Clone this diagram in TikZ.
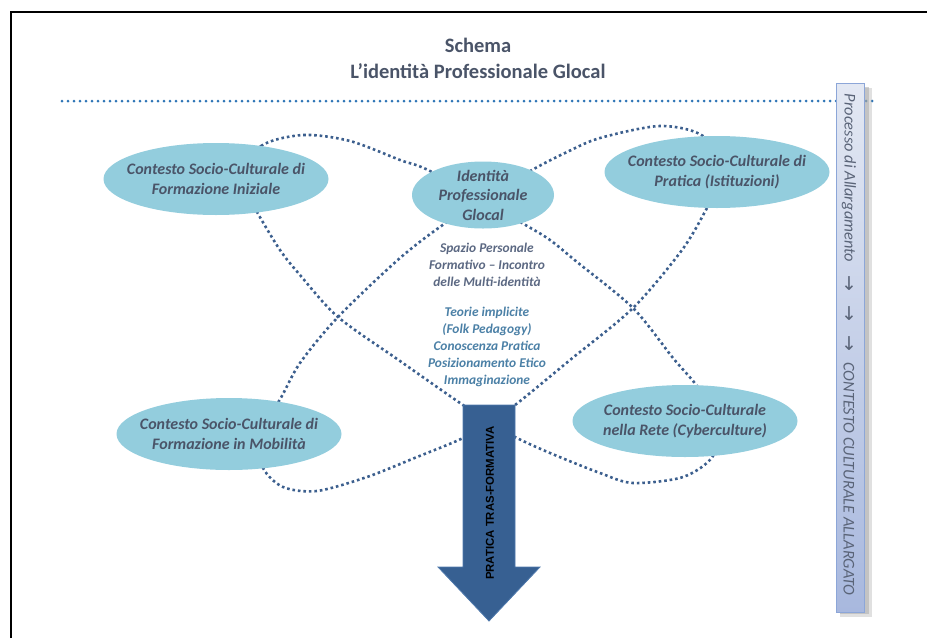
\documentclass[tikz,border=0pt]{standalone}
\usepackage{fontspec}
\setmainfont{Carlito}
\newfontfamily\arialfont{Liberation Sans}
\newfontfamily\symbfont{DejaVu Sans}
\usepackage{tikz}
\usetikzlibrary{shapes.geometric, arrows.meta}
\tikzset{>=stealth}
\usepackage{xcolor}
\definecolor{myaqua}{HTML}{93CDDD}
\definecolor{myslate}{HTML}{4A5468}
\definecolor{mygrey}{HTML}{5B6882}
\definecolor{myteal}{HTML}{4B80A6}
\definecolor{mydots}{HTML}{3C5F8E}
\definecolor{myline}{HTML}{2E75B6}
\definecolor{myarrow}{HTML}{376092}
\definecolor{myarrowedge}{HTML}{4F79AC}
\definecolor{mybartop}{HTML}{E3E8F3}
\definecolor{mybarbot}{HTML}{A8B8DE}
\definecolor{mybaredge}{HTML}{8CA6D8}
\definecolor{mybartext}{HTML}{5A6478}

\begin{document}
\begin{tikzpicture}[x=1pt, y=-1pt,
		ctx/.style={ellipse, fill=myaqua, minimum width=225pt, minimum height=72pt, inner xsep=-40pt, inner ysep=-8pt, align=center, text=myslate, font=\fontsize{16}{19.5}\selectfont\bfseries\itshape},
		dotloop/.style={mydots, line width=2.6pt, dash pattern=on 2.6pt off 2.9pt},
		midtext/.style={align=center, font=\fontsize{13.4}{16.8}\selectfont\bfseries\itshape},
		bartext/.style={rotate=-90, text=mybartext, font=\fontsize{16.4}{18}\selectfont\itshape}]
	\useasboundingbox (0,0) rectangle (927,638);
	% frame and heading
	\draw [line width=1.2pt] (11,638) -- (11,12) -- (927,12);
	\node (title) at (478,58) [align=center, text=myslate, font=\fontsize{20.5}{26}\selectfont\bfseries] {Schema\\L’identità Professionale Glocal};
	\draw [myline, line width=3pt, line cap=round, dash pattern=on 0pt off 6pt] (62,101) -- (875,101);
	% the two crossing loops
	\draw [dotloop] plot [smooth cycle] coordinates {(240,180) (261,146) (303,135) (350,141) (400,160) (432,172) (522,223) (550,240) (577,262) (633,308) (673,358) (697,386) (718,420) (713,456) (683,477) (633,483) (600,473) (550,453) (515,437) (489,421) (463,405) (400,361) (338,317) (300,275) (280,250) (257,212)};
	\draw [dotloop] plot [smooth cycle] coordinates {(725,172) (707,208) (682,250) (633,308) (570,360) (515,405) (489,421) (463,438) (417,457) (367,477) (317,491) (283,487) (263,468) (255,434) (279,401) (300,363) (338,317) (400,258) (447,222) (490,196) (532,170) (567,152) (600,138) (660,126) (703,136)};
	% contexts
	\node [ctx] (iniziale) at (216,179) {Contesto Socio-Culturale di\\Formazione Iniziale};
	\node [ctx] (pratica) at (717,172) {Contesto Socio-Culturale di\\Pratica (Istituzioni)};
	\node [ctx] (mobilita) at (229,434) {Contesto Socio-Culturale di\\Formazione in Mobilità};
	\node [ctx] (rete) at (685,421) {Contesto Socio-Culturale\\nella Rete (Cyberculture)};
	\node [ctx, minimum width=142pt, minimum height=67pt, inner xsep=-10pt, inner ysep=-14pt] (glocal) at (483,195) {Identità\\Professionale\\Glocal};
	\node [midtext, text=mygrey] (spazio) at (487,265) {Spazio Personale\\Formativo – Incontro\\delle Multi-identità};
	\node [midtext, text=myteal] (teorie) at (487,347) {Teorie implicite\\(Folk Pedagogy)\\Conoscenza Pratica\\Posizionamento Etico\\Immaginazione};
	% big arrow
	\filldraw [fill=myarrow, draw=myarrowedge, line width=0.8pt] (463,405) -- (515,405) -- (515,567) -- (540,567) -- (489,621) -- (438,567) -- (463,567) -- cycle;
	\node (pratica-tras) at (490,503) [rotate=90, font=\arialfont\fontsize{11.4}{13}\selectfont\bfseries] {PRATICA TRAS-FORMATIVA};
	% side bar
	\fill [black!35, opacity=0.35] (840,88) rectangle (872,617);
	\fill [black!35, opacity=0.5] (840,87) rectangle (869,614);
	\shade [top color=mybartop, bottom color=mybarbot, draw=mybaredge, line width=0.6pt] (836,83) rectangle (864,612);
	\node [bartext] (processo) at (849,178) {Processo di Allargamento};
	\node [bartext] (freccia1) at (849,283) {\symbfont\fontsize{19}{20}\selectfont →};
	\node [bartext] (freccia2) at (849,313) {\symbfont\fontsize{19}{20}\selectfont →};
	\node [bartext] (freccia3) at (849,343) {\symbfont\fontsize{19}{20}\selectfont →};
	\node [bartext] (allargato) at (849,479) {CONTESTO CULTURALE ALLARGATO};
\end{tikzpicture}
\end{document}
